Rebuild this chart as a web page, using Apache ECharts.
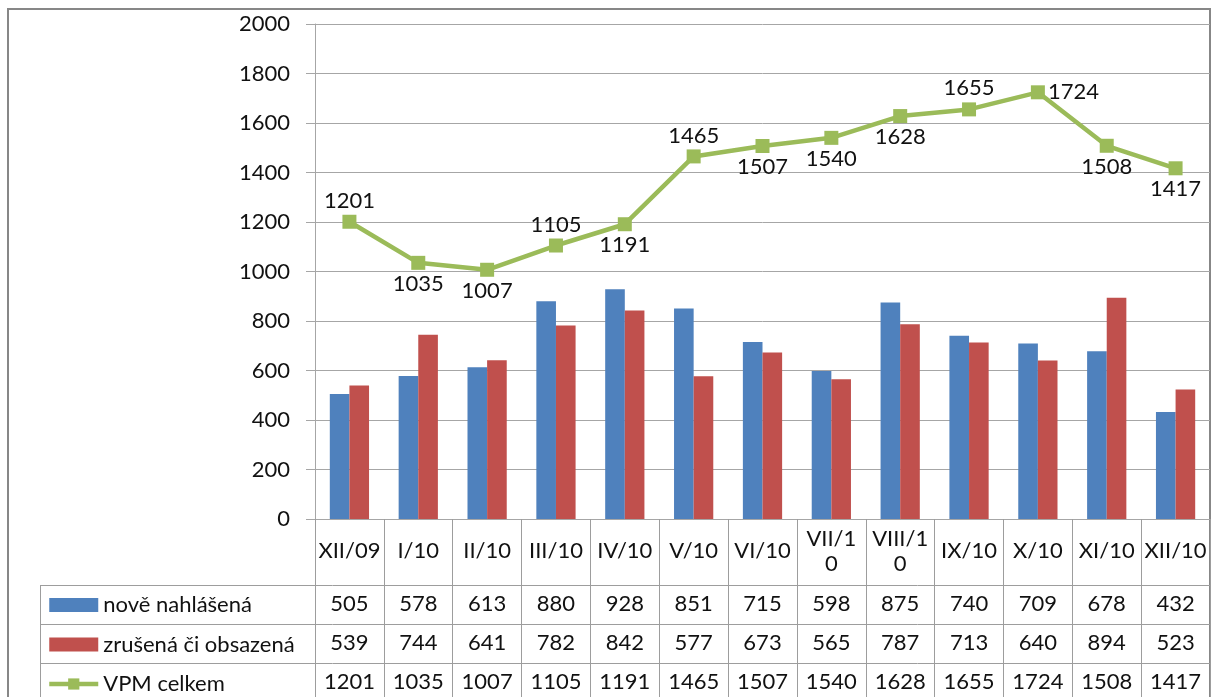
<!DOCTYPE html>
<html>
<head>
<meta charset="utf-8">
<script src="https://cdn.jsdelivr.net/npm/echarts@6/dist/echarts.min.js"></script>
<style>
  html, body { margin: 0; padding: 0; background: #fff; }
  #chart { width: 1212px; height: 697px; }
</style>
</head>
<body>
<div id="chart"></div>
<script>
// měsíce (kategorie)
const categories = ['XII/09', 'I/10', 'II/10', 'III/10', 'IV/10', 'V/10', 'VI/10',
    'VII/10', 'VIII/10', 'IX/10', 'X/10', 'XI/10', 'XII/10'];
// Excel zalomil dva popisky
const wrappedLabels = { 'VII/10': 'VII/1\n0', 'VIII/10': 'VIII/1\n0' };

const seriesNames = ['nově nahlášená', 'zrušená či obsazená', 'VPM celkem'];
const noveNahlasena = [505, 578, 613, 880, 928, 851, 715, 598, 875, 740, 709, 678, 432];
const zrusenaObsazena = [539, 744, 641, 782, 842, 577, 673, 565, 787, 713, 640, 894, 523];
const vpmCelkem = [1201, 1035, 1007, 1105, 1191, 1465, 1507, 1540, 1628, 1655, 1724, 1508, 1417];
// kde stojí popisek u bodu čáry
const vpmLabelPos = ['top', 'bottom', 'bottom', 'top', 'bottom', 'top', 'bottom',
    'bottom', 'bottom', 'top', 'right', 'bottom', 'bottom'];

const yMin = 0, yMax = 2000, yStep = 200;

const FONT = 'Lato, "Open Sans", sans-serif';
const FS = 22;
const TXT = '#111';
const GRID_C = '#a6a6a6';
const TABLE_C = '#9d9d9d';

const colors = ['#4F81BD', '#C0504D', '#9BBB59'];

// rozložení tabulky pod grafem
const gridLeft = 315, gridTop = 24, gridBottomY = 519, gridRightX = 1210;
const tableLeft = 40;
const rowLines = [585, 624, 663];
const rowCenters = [604, 643, 682];
const tableBottom = 697;

const chart = echarts.init(document.getElementById('chart'));

const rows = [noveNahlasena, zrusenaObsazena, vpmCelkem];

const xAxes = [{
    type: 'category',
    data: categories,
    gridIndex: 0,
    position: 'bottom',
    axisLine: { show: true, lineStyle: { color: GRID_C, width: 1 } },
    axisTick: { show: true, length: tableBottom - gridBottomY, lineStyle: { color: TABLE_C } },
    axisLabel: {
        interval: 0, margin: 32, verticalAlign: 'middle', lineHeight: 25,
        fontSize: FS, fontFamily: FONT, color: TXT,
        formatter: v => wrappedLabels[v] || v
    },
    splitLine: { show: false }
}];
rows.forEach((vals, i) => {
    xAxes.push({
        type: 'category',
        data: vals.map(String),
        gridIndex: 0,
        position: 'bottom',
        axisLine: { show: false },
        axisTick: { show: false },
        splitLine: { show: false },
        axisLabel: {
            interval: 0, margin: rowCenters[i] - gridBottomY, verticalAlign: 'middle',
            fontSize: FS, fontFamily: FONT, color: TXT
        }
    });
});

const graphics = [{
    type: 'rect',
    shape: { x: 8, y: 9, width: 1202, height: 700 },
    style: { fill: 'none', stroke: '#878787', lineWidth: 2 },
    silent: true, z: 0
}];
rowLines.forEach(y => {
    graphics.push({
        type: 'line',
        shape: { x1: tableLeft, y1: y + 0.5, x2: gridRightX, y2: y + 0.5 },
        style: { stroke: TABLE_C, lineWidth: 1 },
        silent: true
    });
});
graphics.push({
    type: 'line',
    shape: { x1: tableLeft + 0.5, y1: rowLines[0], x2: tableLeft + 0.5, y2: tableBottom },
    style: { stroke: TABLE_C, lineWidth: 1 },
    silent: true
});

chart.setOption({
    animation: false,
    textStyle: { fontFamily: FONT },
    grid: {
        left: gridLeft, top: gridTop,
        width: gridRightX - gridLeft, height: gridBottomY - gridTop,
        containLabel: false
    },
    legend: {
        orient: 'vertical',
        left: 47, top: 594,
        width: 260, height: 140,
        padding: 0,
        itemWidth: 49, itemHeight: 14, itemGap: 17.5,
        selectedMode: false,
        textStyle: { fontSize: FS, fontFamily: FONT, color: TXT, lineHeight: 20 },
        data: [
            { name: seriesNames[0], icon: 'rect' },
            { name: seriesNames[1], icon: 'rect' },
            { name: seriesNames[2], lineStyle: { width: 4.5 } }
        ]
    },
    xAxis: xAxes,
    yAxis: {
        type: 'value',
        min: yMin, max: yMax, interval: yStep,
        axisLine: { show: true, lineStyle: { color: GRID_C } },
        axisTick: { show: true, length: 9, lineStyle: { color: GRID_C } },
        axisLabel: {
            fontSize: FS, fontFamily: FONT, color: TXT, margin: 25,
            formatter: v => String(v)
        },
        splitLine: { show: true, lineStyle: { color: GRID_C, width: 1 } }
    },
    graphic: graphics,
    series: [
        {
            name: seriesNames[0], type: 'bar', xAxisIndex: 0,
            data: noveNahlasena,
            barGap: '0%', barCategoryGap: '43%',
            itemStyle: { color: colors[0] }
        },
        {
            name: seriesNames[1], type: 'bar', xAxisIndex: 0,
            data: zrusenaObsazena,
            barGap: '0%', barCategoryGap: '43%',
            itemStyle: { color: colors[1] }
        },
        {
            name: seriesNames[2], type: 'line', xAxisIndex: 0,
            data: vpmCelkem.map((v, i) => ({ value: v, label: { position: vpmLabelPos[i] } })),
            symbol: 'rect', symbolSize: 14,
            lineStyle: { color: colors[2], width: 4.5 },
            itemStyle: { color: colors[2] },
            label: {
                show: true, distance: 3,
                fontSize: FS, fontFamily: FONT, color: TXT
            },
            z: 5
        }
    ]
});
</script>
</body>
</html>
